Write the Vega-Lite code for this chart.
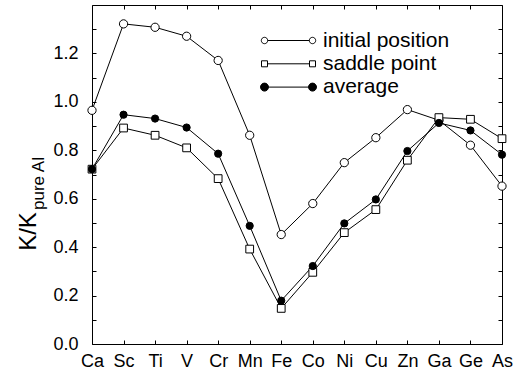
{
  "$schema": "https://vega.github.io/schema/vega-lite/v6.json",
  "width": 410,
  "height": 339,
  "autosize": {"type": "none"},
  "padding": {"left": 92, "top": 5, "right": 19, "bottom": 33},
  "background": "white",
  "config": {
    "font": "Liberation Sans",
    "view": {"stroke": "black", "strokeWidth": 1},
    "axis": {"domain": false, "grid": false, "tickColor": "black", "labelColor": "black", "titleColor": "black", "tickSize": -4, "tickWidth": 1}
  },
  "data": {
    "values": [
      {"el": "Ca", "series": "initial position", "v": 0.965},
      {"el": "Sc", "series": "initial position", "v": 1.322},
      {"el": "Ti", "series": "initial position", "v": 1.308},
      {"el": "V", "series": "initial position", "v": 1.271},
      {"el": "Cr", "series": "initial position", "v": 1.171},
      {"el": "Mn", "series": "initial position", "v": 0.862},
      {"el": "Fe", "series": "initial position", "v": 0.452},
      {"el": "Co", "series": "initial position", "v": 0.580},
      {"el": "Ni", "series": "initial position", "v": 0.749},
      {"el": "Cu", "series": "initial position", "v": 0.852},
      {"el": "Zn", "series": "initial position", "v": 0.968},
      {"el": "Ga", "series": "initial position", "v": 0.924},
      {"el": "Ge", "series": "initial position", "v": 0.821},
      {"el": "As", "series": "initial position", "v": 0.652},
      {"el": "Ca", "series": "saddle point", "v": 0.722},
      {"el": "Sc", "series": "saddle point", "v": 0.892},
      {"el": "Ti", "series": "saddle point", "v": 0.862},
      {"el": "V", "series": "saddle point", "v": 0.810},
      {"el": "Cr", "series": "saddle point", "v": 0.683},
      {"el": "Mn", "series": "saddle point", "v": 0.392},
      {"el": "Fe", "series": "saddle point", "v": 0.147},
      {"el": "Co", "series": "saddle point", "v": 0.296},
      {"el": "Ni", "series": "saddle point", "v": 0.460},
      {"el": "Cu", "series": "saddle point", "v": 0.555},
      {"el": "Zn", "series": "saddle point", "v": 0.759},
      {"el": "Ga", "series": "saddle point", "v": 0.935},
      {"el": "Ge", "series": "saddle point", "v": 0.928},
      {"el": "As", "series": "saddle point", "v": 0.848},
      {"el": "Ca", "series": "average", "v": 0.722},
      {"el": "Sc", "series": "average", "v": 0.947},
      {"el": "Ti", "series": "average", "v": 0.931},
      {"el": "V", "series": "average", "v": 0.894},
      {"el": "Cr", "series": "average", "v": 0.786},
      {"el": "Mn", "series": "average", "v": 0.488},
      {"el": "Fe", "series": "average", "v": 0.179},
      {"el": "Co", "series": "average", "v": 0.322},
      {"el": "Ni", "series": "average", "v": 0.498},
      {"el": "Cu", "series": "average", "v": 0.597},
      {"el": "Zn", "series": "average", "v": 0.797},
      {"el": "Ga", "series": "average", "v": 0.913},
      {"el": "Ge", "series": "average", "v": 0.882},
      {"el": "As", "series": "average", "v": 0.782}
    ]
  },
  "resolve": {"scale": {"x": "independent", "y": "independent", "shape": "independent", "fill": "independent", "stroke": "independent"}, "axis": {"x": "independent", "y": "independent"}, "legend": {"shape": "independent", "fill": "independent", "stroke": "independent"}},
  "layer": [
    {
      "mark": {"type": "line", "color": "black", "strokeWidth": 1},
      "encoding": {
        "x": {"field": "el", "type": "nominal", "sort": null,
              "scale": {"type": "point", "padding": 0, "domain": ["Ca","Sc","Ti","V","Cr","Mn","Fe","Co","Ni","Cu","Zn","Ga","Ge","As"]},
              "axis": {"orient": "bottom", "title": null, "labelFontSize": 18, "labelPadding": 12, "labelAngle": 0}},
        "y": {"field": "v", "type": "quantitative", "scale": {"domain": [0, 1.4], "nice": false, "zero": true},
              "axis": {"orient": "left", "values": [0,0.1,0.2,0.3,0.4,0.5,0.6,0.7,0.8,0.9,1.0,1.1,1.2,1.3], "format": ".1f",
                       "labelExpr": "round(datum.value*10) % 2 == 0 ? datum.label : ''",
                       "labelFontSize": 18, "labelPadding": 18,
                       "title": "K/K", "titleFontSize": 24, "titleFontWeight": "normal", "titleX": -52, "titleY": 226, "titleAngle": 270, "titleBaseline": "bottom"}},
        "detail": {"field": "series", "type": "nominal"}
      }
    },
    {
      "mark": {"type": "point", "filled": true, "stroke": "black", "strokeWidth": 1, "opacity": 1},
      "encoding": {
        "x": {"field": "el", "type": "nominal", "sort": null,
              "scale": {"type": "point", "padding": 0, "domain": ["Ca","Sc","Ti","V","Cr","Mn","Fe","Co","Ni","Cu","Zn","Ga","Ge","As"]}, "axis": null},
        "y": {"field": "v", "type": "quantitative", "scale": {"domain": [0, 1.4], "nice": false}, "axis": null},
        "shape": {"field": "series", "type": "nominal",
                  "scale": {"domain": ["initial position", "saddle point", "average"], "range": ["circle", "square", "circle"]}, "legend": null},
        "size": {"field": "series", "type": "nominal",
                 "scale": {"domain": ["initial position", "saddle point", "average"], "range": [68, 52, 68]}, "legend": null},
        "fill": {"field": "series", "type": "nominal",
                 "scale": {"domain": ["initial position", "saddle point", "average"], "range": ["white", "white", "black"]}, "legend": null}
      }
    },
    {
      "mark": {"type": "point", "opacity": 0},
      "encoding": {
        "x": {"field": "el", "type": "nominal", "sort": null,
              "scale": {"type": "point", "padding": 0, "domain": ["Ca","Sc","Ti","V","Cr","Mn","Fe","Co","Ni","Cu","Zn","Ga","Ge","As"]},
              "axis": {"orient": "top", "labels": false, "title": null}},
        "y": {"field": "v", "type": "quantitative", "scale": {"domain": [0, 1.4], "nice": false},
              "axis": {"orient": "right", "labels": false, "title": null, "values": [0,0.1,0.2,0.3,0.4,0.5,0.6,0.7,0.8,0.9,1.0,1.1,1.2,1.3]}}
      }
    },
    {
      "mark": {"type": "point", "opacity": 0},
      "encoding": {
        "x": {"field": "el", "type": "nominal", "sort": null,
              "scale": {"type": "point", "padding": 0, "domain": ["Ca","Sc","Ti","V","Cr","Mn","Fe","Co","Ni","Cu","Zn","Ga","Ge","As"]}, "axis": null},
        "y": {"field": "v", "type": "quantitative", "scale": {"domain": [0, 1.4], "nice": false},
              "axis": {"orient": "left", "labels": false, "ticks": false, "domain": false, "title": "pure Al",
                       "titleFontSize": 17, "titleFontWeight": "normal", "titleX": -45, "titleY": 178, "titleAngle": 270, "titleBaseline": "bottom"}}
      }
    },
    {
      "transform": [{"filter": "datum.v < 0"}],
      "mark": {"type": "point", "filled": true, "strokeWidth": 1, "size": 64, "opacity": 1},
      "encoding": {
        "x": {"field": "el", "type": "nominal", "sort": null,
              "scale": {"type": "point", "padding": 0, "domain": ["Ca","Sc","Ti","V","Cr","Mn","Fe","Co","Ni","Cu","Zn","Ga","Ge","As"]}, "axis": null},
        "y": {"field": "v", "type": "quantitative", "scale": {"domain": [0, 1.4], "nice": false}, "axis": null},
        "shape": {"field": "series", "type": "nominal",
                  "scale": {"domain": ["initial position", "saddle point", "average"],
                            "range": ["M -5.2 0 A 0.8 0.8 0 1 1 -6.8 0 A 0.8 0.8 0 1 1 -5.2 0 Z M -5.2 0 L 5.2 0 M 6.8 0 A 0.8 0.8 0 1 1 5.2 0 A 0.8 0.8 0 1 1 6.8 0 Z",
                                      "M -6.75 -0.75 L -5.25 -0.75 L -5.25 0.75 L -6.75 0.75 Z M -5.25 0 L 5.25 0 M 5.25 -0.75 L 6.75 -0.75 L 6.75 0.75 L 5.25 0.75 Z",
                                      "M -5 0 A 1 1 0 1 1 -7 0 A 1 1 0 1 1 -5 0 Z M -5 0 L 5 0 M 7 0 A 1 1 0 1 1 5 0 A 1 1 0 1 1 7 0 Z"]},
                  "legend": {"title": null, "orient": "none", "legendX": 170, "legendY": 25, "padding": 0,
                             "labelFontSize": 21, "labelColor": "black", "symbolSize": 64, "symbolOffset": 16, "labelOffset": 24, "rowPadding": 1.3,
                             "symbolStrokeWidth": 1, "symbolOpacity": 1}},
        "fill": {"field": "series", "type": "nominal",
                 "scale": {"domain": ["initial position", "saddle point", "average"], "range": ["white", "white", "black"]},
                 "legend": {"title": null, "orient": "none", "legendX": 170, "legendY": 25, "padding": 0,
                            "labelFontSize": 21, "labelColor": "black", "symbolSize": 64, "symbolOffset": 16, "labelOffset": 24, "rowPadding": 1.3,
                            "symbolStrokeWidth": 1, "symbolOpacity": 1}},
        "stroke": {"field": "series", "type": "nominal",
                   "scale": {"domain": ["initial position", "saddle point", "average"], "range": ["black", "black", "black"]},
                   "legend": {"title": null, "orient": "none", "legendX": 170, "legendY": 25, "padding": 0,
                              "labelFontSize": 21, "labelColor": "black", "symbolSize": 64, "symbolOffset": 16, "labelOffset": 24, "rowPadding": 1.3,
                              "symbolStrokeWidth": 1, "symbolOpacity": 1}}
      }
    }
  ]
}
